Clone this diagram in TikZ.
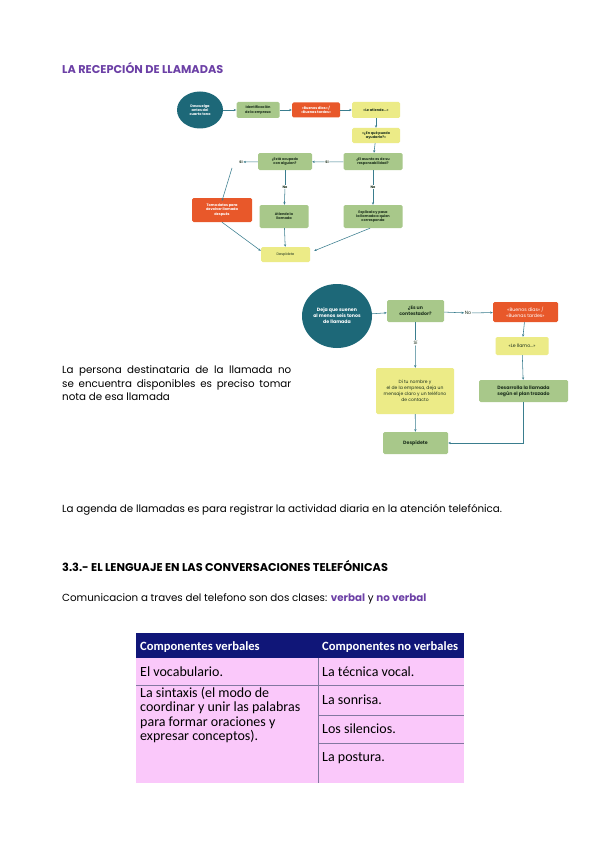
\documentclass[tikz,border=0pt]{standalone}
\usepackage{fontspec}
\setmainfont{Poppins}
\newfontfamily\calib{Carlito}
\usetikzlibrary{arrows.meta,shapes.geometric}
\definecolor{teal1}{RGB}{29,104,120}
\definecolor{grn}{RGB}{168,200,138}
\definecolor{org}{RGB}{232,88,42}
\definecolor{yel}{RGB}{236,235,135}
\definecolor{arr}{RGB}{58,125,142}
\definecolor{purp}{RGB}{108,64,166}
\definecolor{pinkbg}{RGB}{250,200,250}
\definecolor{navy}{RGB}{16,22,120}
\definecolor{gridc}{RGB}{130,120,160}
\definecolor{dtxt}{RGB}{30,50,30}
\tikzset{
  box/.style={rounded corners=1.5pt, align=center, inner sep=0.5pt, text=dtxt},
  fa/.style={font=\fontsize{3.5}{4.2}\selectfont\bfseries},
  fb/.style={font=\fontsize{4.7}{5.9}\selectfont\bfseries},
  gbox/.style={box, fill=grn},
  obox/.style={box, fill=org, text=white},
  ybox/.style={box, fill=yel},
  lbl/.style={inner sep=0.5pt, text=dtxt},
  con/.style={draw=arr, line width=0.55pt},
  arw/.style={con, -{Stealth[length=2.6pt,width=2.2pt]}},
  body/.style={anchor=west, inner sep=0pt, font=\fontsize{10.3}{13.6}\selectfont},
  head/.style={anchor=west, inner sep=0pt, font=\fontsize{11.3}{13}\selectfont\bfseries},
  tcell/.style={anchor=base west, inner sep=0pt, font=\calib\fontsize{14}{14.5}\selectfont, align=left},
  thead/.style={anchor=base west, inner sep=0pt, font=\calib\bfseries\fontsize{12.6}{14}\selectfont, text=white}
}
\begin{document}
\begin{tikzpicture}[x=1pt,y=-1pt]
\useasboundingbox[fill=white] (0,0) rectangle (601,848);

\node[head, text=purp] (t1) at (62,68) {LA RECEPCIÓN DE LLAMADAS};

% ---------- flowchart 1 ----------
\node[ellipse, fill=teal1, text=white, fa, minimum width=46pt, minimum height=37pt, inner sep=0pt, align=center] (a1) at (200,110) {Descuelga\\antes del\\cuarto tono};
\node[gbox, fa, minimum width=43pt, minimum height=16pt] (a2) at (258,110) {Identificación\\de la empresa};
\node[obox, fa, minimum width=48pt, minimum height=15pt] (a3) at (316,110) {«Buenos días» /\\«Buenas tardes»};
\node[ybox, fa, minimum width=48pt, minimum height=16pt] (a4) at (376,110) {«Le atiende...»};
\node[ybox, fa, minimum width=48pt, minimum height=15pt] (a5) at (376,135.5) {«¿En qué puedo\\ayudarle?»};
\node[gbox, fa, minimum width=59pt, minimum height=17pt] (a6) at (373,161.5) {¿El asunto es de su\\responsabilidad?};
\node[lbl, fa] (s1) at (327,162) {Sí};
\node[gbox, fa, minimum width=54pt, minimum height=17pt] (a7) at (285,161.5) {¿Está ocupado\\con alguien?};
\node[lbl, fa] (s2) at (241,162) {Sí};
\node[lbl, fa] (n1) at (285,187) {No};
\node[lbl, fa] (n2) at (373,187) {No};
\node[obox, fa, minimum width=60pt, minimum height=24pt] (a8) at (222,210) {Toma datos para\\devolver llamada\\después};
\node[gbox, fa, minimum width=49pt, minimum height=23pt] (a9) at (284,216.5) {Atiende la\\llamada};
\node[gbox, fa, minimum width=59pt, minimum height=23pt] (a10) at (373,216.5) {Explícalo y pasa\\la llamada a quien\\corresponda};
\node[ybox, font=\fontsize{3.5}{4.2}\selectfont, minimum width=49pt, minimum height=15pt] (a11) at (285.5,254.5) {Despídete};
\coordinate (s2b) at (232,168);

\draw[arw] (a1) -- (a2);
\draw[arw] (a2) -- (a3);
\draw[arw] (a3) -- (a4);
\draw[arw] (a4) -- (a5);
\draw[arw] (a5) -- (a6);
\draw[con] (a6) -- (s1);
\draw[arw] (s1) -- (a7);
\draw[arw] (a7) -- (s2);
\draw[arw] (s2b) -- ([yshift=-3pt]a8.north);
\draw[con] (a7) -- (n1);
\draw[arw] (n1) -- (a9);
\draw[con] (a6) -- (n2);
\draw[arw] (n2) -- (a10);
\draw[arw] (a8.south) -- ([yshift=-4pt]a11.north west);
\draw[arw] (a9) -- (a11);
\draw[arw] ([xshift=-3pt]a10.south) -- ([xshift=4pt,yshift=-4pt]a11.north east);

% ---------- flowchart 2 ----------
\node[ellipse, fill=teal1, text=white, fb, minimum width=70pt, minimum height=64pt, inner sep=0pt, align=center] (b1) at (337,316) {Deja que suenen\\al menos seis tonos\\de llamada};
\node[gbox, fb, minimum width=57pt, minimum height=22pt] (b2) at (415.5,311) {¿Es un\\contestador?};
\node[lbl, font=\fontsize{4.7}{5.9}\selectfont] (n3) at (468,313) {No};
\node[obox, font=\fontsize{4.7}{5.9}\selectfont, minimum width=65pt, minimum height=20pt] (b3) at (525.5,312) {«Buenos días» /\\«Buenas tardes»};
\node[ybox, font=\fontsize{4.7}{5.9}\selectfont, minimum width=53pt, minimum height=18pt] (b4) at (522,346) {«Le llamo...»};
\node[lbl, font=\fontsize{4.7}{5.9}\selectfont] (s3) at (415.5,343) {Sí};
\node[ybox, font=\fontsize{4.5}{5.9}\selectfont, minimum width=78pt, minimum height=46pt] (b5) at (415,391) {Di tu nombre y\\el de la empresa, deja un\\mensaje claro y un teléfono\\de contacto};
\node[gbox, fb, minimum width=89pt, minimum height=22pt] (b6) at (523.5,391) {Desarrolla la llamada\\según el plan trazado};
\node[gbox, fb, minimum width=65pt, minimum height=22pt] (b7) at (415.5,443) {Despídete};
\coordinate (c1) at (b6.south |- b7.east);

\draw[arw] (b1) -- (b2);
\draw[arw] (b2) -- (n3);
\draw[arw] (n3) -- (b3);
\draw[arw] (b3) -- (b4);
\draw[arw] (b4) -- (b6);
\draw[con] (b2) -- (s3);
\draw[arw] (s3) -- (b5);
\draw[arw] (b5) -- (b7);
\draw[con] (b6.south) -- (c1);
\draw[arw] (c1) -- (b7.east);

% ---------- body text ----------
\node[body, text width=229pt, align=justify] (p1) at (62,383.5) {La persona destinataria de la llamada no\linebreak se encuentra disponibles es preciso tomar\linebreak nota de esa llamada};

\node[body] (p2) at (62,510) {La agenda de llamadas es para registrar la actividad diaria en la atención telefónica.};

\node[head] (t2) at (62,566) {3.3.- EL LENGUAJE EN LAS CONVERSACIONES TELEFÓNICAS};

\node[body] (p3) at (62,599) {Comunicacion a traves del telefono son dos clases: \textcolor{purp}{\bfseries verbal} y \textcolor{purp}{\bfseries no verbal}};

% ---------- table ----------
\fill[pinkbg] (136,633) rectangle (464,783);
\fill[navy] (136,633) rectangle (464,657.5);
\draw[gridc, line width=0.8pt] (318.5,657.5) -- (318.5,783);
\draw[gridc, line width=0.8pt] (136,685) -- (464,685);
\draw[gridc, line width=0.8pt] (318.5,715) -- (464,715);
\draw[gridc, line width=0.8pt] (318.5,743) -- (464,743);
\node[thead] (h1) at (140,650) {Componentes verbales};
\node[thead] (h2) at (322,650) {Componentes no verbales};
\node[tcell] (c11) at (140,676) {El vocabulario.};
\node[tcell] (c21) at (322,676) {La técnica vocal.};
\node[tcell] (c12) at (140,697) {La sintaxis (el modo de};
\node[tcell] (c13) at (140,711.5) {coordinar y unir las palabras};
\node[tcell] (c14) at (140,726) {para formar oraciones y};
\node[tcell] (c15) at (140,740.5) {expresar conceptos).};
\node[tcell] (c22) at (322,704.5) {La sonrisa.};
\node[tcell] (c23) at (322,733) {Los silencios.};
\node[tcell] (c24) at (322,761) {La postura.};
\end{tikzpicture}
\end{document}
